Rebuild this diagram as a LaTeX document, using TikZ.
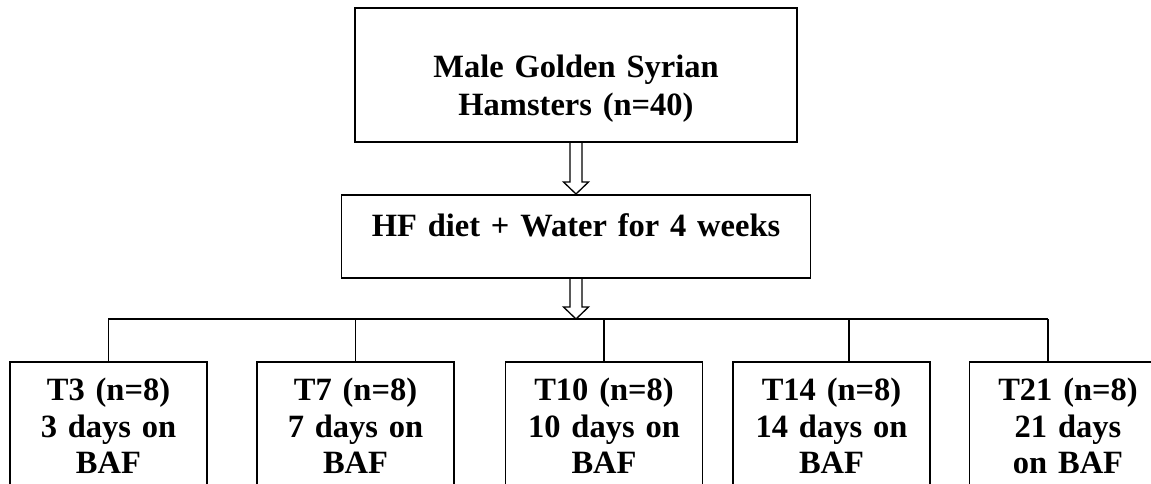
\documentclass[tikz,border=0pt]{standalone}
\usepackage{fontspec}
\setmainfont[WordSpace=0.8]{Liberation Serif}
\usetikzlibrary{calc}

% hollow block arrow from #1 down to #2
\newcommand{\fatarrow}[2]{%
  \draw[line width=1.3pt] ($(#1)+(-6,0)$) -- ($(#2)+(-6,-12)$) -- ($(#2)+(-12.5,-12)$)
    -- (#2) -- ($(#2)+(12.5,-12)$) -- ($(#2)+(6,-12)$) -- ($(#1)+(6,0)$);}

\begin{document}
\begin{tikzpicture}[x=1pt,y=-1pt,
  box/.style={draw, line width=1.6pt, font=\fontsize{32.5}{38}\selectfont\bfseries,
    align=center, inner sep=0pt, anchor=north},
  group/.style={box, text width=185pt, inner xsep=6pt, text height=39pt, text depth=150pt,
    font=\fontsize{32.5}{36.5}\selectfont\bfseries},
  link/.style={line width=1.3pt}]

\useasboundingbox (0,0) rectangle (1151,484);
\clip (0,0) rectangle (1151,484);

\node[box, text width=442pt, text height=70pt, text depth=64pt] (hamsters) at (576,7) {Male Golden Syrian\\Hamsters (n=40)};
\node[box, text width=469pt, text height=42pt, text depth=41pt] (diet) at (576,194) {HF diet + Water for 4 weeks};

\node[group] (t3) at (108.5,361) {T3 (n=8)\\3 days on\\BAF};
\node[group] (t7) at (355.5,361) {T7 (n=8)\\7 days on\\BAF};
\node[group] (t10) at (604,361) {T10 (n=8)\\10 days on\\BAF};
\node[group] (t14) at (831.5,361) {T14 (n=8)\\14 days on\\BAF};
\node[group] (t21) at (1068,361) {T21 (n=8)\\21 days\\on BAF};

\coordinate (fork) at (576,319);
\coordinate (busL) at (108,319);
\coordinate (busR) at (1048,319);
\coordinate (drop14) at (849,319);

\fatarrow{hamsters.south}{diet.north}
\fatarrow{diet.south}{fork}

\draw[link] (busL) -- (busR);
\draw[link] (t3.north) -- (t3.north |- busL);
\draw[link] (t7.north) -- (t7.north |- busL);
\draw[link] (t10.north) -- (t10.north |- busL);
\draw[link] (drop14) -- (drop14 |- t14.north);
\draw[link] (busR) -- (busR |- t21.north);
\end{tikzpicture}
\end{document}
